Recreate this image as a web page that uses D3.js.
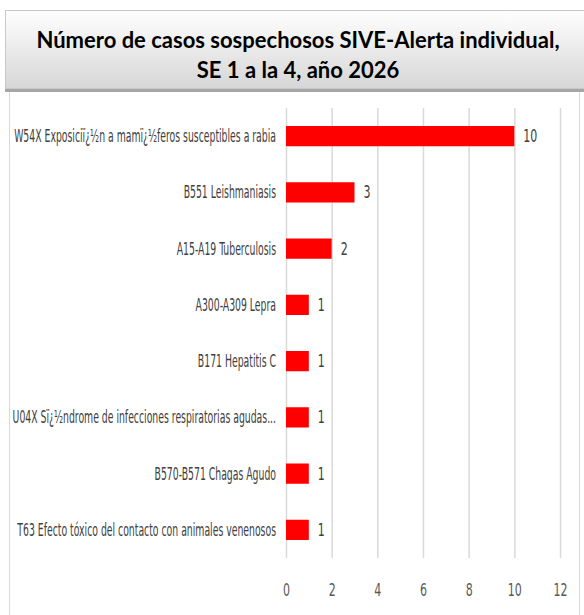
<!DOCTYPE html>
<html>
<head>
<meta charset="utf-8">
<script src="https://cdn.jsdelivr.net/npm/d3@7"></script>
<style>
  body { margin: 0; background: #fff; }
  svg { display: block; }
</style>
</head>
<body>
<div id="chart"></div>
<script>
var svgWidth = 584;
var svgHeight = 615;

// chart data
var categories = [
  "W54X Exposiciï¿½n a mamï¿½feros susceptibles a rabia",
  "B551 Leishmaniasis",
  "A15-A19 Tuberculosis",
  "A300-A309 Lepra",
  "B171 Hepatitis C",
  "U04X Sï¿½ndrome de infecciones respiratorias agudas...",
  "B570-B571 Chagas Agudo",
  "T63 Efecto tóxico del contacto con animales venenosos"
];
var casos = [10, 3, 2, 1, 1, 1, 1, 1];
var xTicks = [0, 2, 4, 6, 8, 10, 12];
var titleLines = [
  "Número de casos sospechosos SIVE-Alerta individual,",
  "SE 1 a la 4, año 2026"
];

var data = categories.map(function(c, i) { return { name: c, value: casos[i] }; });
var narrowFont = "'Liberation Sans Narrow', 'DejaVu Sans Condensed', sans-serif";

var svg = d3.select("#chart")
  .append("svg")
  .attr("width", svgWidth)
  .attr("height", svgHeight);

var defs = svg.append("defs");
var grad = defs.append("linearGradient")
  .attr("id", "titleGrad")
  .attr("x1", 0).attr("y1", 0).attr("x2", 0).attr("y2", 1);
grad.append("stop").attr("offset", "0%").attr("stop-color", "#ffffff");
grad.append("stop").attr("offset", "100%").attr("stop-color", "#d6d6d6");

// chart area frame
svg.append("rect")
  .attr("x", 9.5)
  .attr("y", 90)
  .attr("width", 570)
  .attr("height", 540)
  .attr("fill", "#fff")
  .attr("stroke", "#d9d9d9");

// title box
svg.append("rect")
  .attr("x", 5)
  .attr("y", 88)
  .attr("width", 600)
  .attr("height", 4)
  .attr("fill", "#a6a6a6");

svg.append("rect")
  .attr("x", 5.5)
  .attr("y", 10.5)
  .attr("width", 600)
  .attr("height", 78)
  .attr("fill", "url(#titleGrad)")
  .attr("stroke", "#c8c8c8");

svg.append("g")
  .selectAll("text")
  .data(titleLines)
  .enter()
  .append("text")
  .attr("x", 298)
  .attr("y", (d, i) => 48 + i * 30)
  .attr("text-anchor", "middle")
  .attr("font-family", "Lato, 'Open Sans', sans-serif")
  .attr("font-weight", "bold")
  .attr("font-size", "22px")
  .attr("fill", "#000")
  .text(d => d);

// scales
var xScale = d3.scaleLinear()
  .domain([0, 12])
  .range([286, 560]);

var yScale = d3.scaleBand()
  .domain(categories)
  .range([108, 558])
  .paddingInner(0.64)
  .paddingOuter(0.32);

// gridlines + tick labels
var xAxis = d3.axisBottom(xScale)
  .tickValues(xTicks)
  .tickSize(-(558 - 108))
  .tickFormat(d3.format("d"));

var axisG = svg.append("g")
  .attr("transform", "translate(0, 558)")
  .call(xAxis);

axisG.select(".domain").remove();
axisG.selectAll(".tick line")
  .attr("stroke", "#d9d9d9")
  .attr("stroke-width", 1.5);
axisG.selectAll(".tick text")
  .attr("y", 0)
  .attr("dy", 0)
  .attr("transform", "translate(0, 38) scale(0.72, 1)")
  .attr("font-family", narrowFont)
  .attr("font-size", "17px")
  .attr("fill", "#595959");

// bars
svg.append("g")
  .selectAll("rect")
  .data(data)
  .enter()
  .append("rect")
  .attr("x", xScale(0))
  .attr("y", d => yScale(d.name))
  .attr("width", d => xScale(d.value) - xScale(0))
  .attr("height", yScale.bandwidth())
  .attr("fill", "#ff0000");

// value labels
svg.append("g")
  .selectAll("text")
  .data(data)
  .enter()
  .append("text")
  .attr("transform", d => `translate(${xScale(d.value) + 9}, ${yScale(d.name) + yScale.bandwidth() / 2 + 6}) scale(0.72, 1)`)
  .attr("font-family", narrowFont)
  .attr("font-size", "17px")
  .attr("fill", "#404040")
  .text(d => d.value);

// category labels, squeezed so the first (rabia) label fills the label area
var labels = svg.append("g")
  .selectAll("text")
  .data(data)
  .enter()
  .append("text")
  .attr("text-anchor", "end")
  .attr("font-family", narrowFont)
  .attr("font-size", "17px")
  .attr("fill", "#404040")
  .text(d => d.name);

var firstW = labels.node().getComputedTextLength();
var longest = d3.max(labels.nodes(), n => n.getComputedTextLength());
var sx = Math.min(262 / firstW, 268 / longest);

labels.attr("transform", d => `translate(276, ${yScale(d.name) + yScale.bandwidth() / 2 + 6}) scale(${sx}, 1)`);
</script>
</body>
</html>
